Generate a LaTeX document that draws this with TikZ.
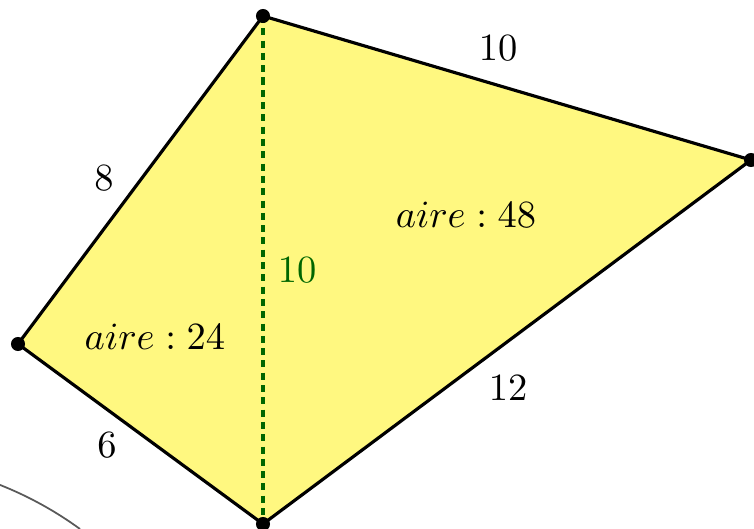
\documentclass[tikz,border=0pt]{standalone}
\begin{document}
\begin{tikzpicture}[font=\fontsize{10.5}{13}\selectfont]
\useasboundingbox (0,0) rectangle (7.54,5.29);
\coordinate (T) at (2.63,5.13);
\coordinate (R) at (7.51,3.69);
\coordinate (L) at (0.18,1.85);
\coordinate (B) at (2.63,0.05);
\fill[yellow!50] (T) -- (R) -- (B) -- (L) -- cycle;
\draw[gray!70!black, line width=0.5pt] (0.80,0) arc[start angle=53.9, end angle=68.4, radius=3.62];
\draw[green!40!black, line width=0.9pt, dash pattern=on 2pt off 1.5pt] (T) -- (B);
\draw[line width=0.9pt, line join=round] (T) -- (R) -- (B) -- (L) -- cycle;
\fill (T) circle (2pt);
\fill (R) circle (2pt);
\fill (L) circle (2pt);
\fill (B) circle (2pt);
\node (lTR) at (4.98,4.81) {$10$};
\node (lTL) at (1.04,3.51) {$8$};
\node (lLB) at (1.07,0.84) {$6$};
\node (lRB) at (5.08,1.41) {$12$};
\node[green!40!black] (lTB) at (2.97,2.59) {$10$};
\node (aR) at (4.66,3.14) {$aire : 48$};
\node (aL) at (1.55,1.92) {$aire : 24$};
\end{tikzpicture}
\end{document}
